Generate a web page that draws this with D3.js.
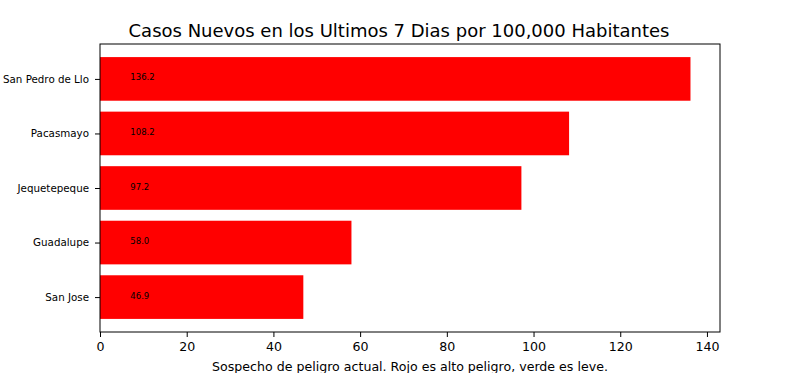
<!DOCTYPE html>
<html>
<head>
<meta charset="utf-8">
<script src="https://cdn.jsdelivr.net/npm/d3@7"></script>
<style>
  body { margin: 0; background: #fff; }
  svg { font-family: "DejaVu Sans", sans-serif; }
</style>
</head>
<body>
<svg id="chart" width="800" height="373"></svg>
<script>
// data
let districts = ["San Jose", "Guadalupe", "Jequetepeque", "Pacasmayo", "San Pedro de Llo"];
let cases = [46.9, 58.0, 97.2, 108.2, 136.2];
let xTicks = [0, 20, 40, 60, 80, 100, 120, 140];

let svg = d3.select("#chart");
let plotLeft = 100, plotRight = 720, plotTop = 44, plotBottom = 332;

// matplotlib style margins
let xScale = d3.scaleLinear()
  .domain([0, d3.max(cases) * 1.05])
  .range([plotLeft, plotRight]);
let yScale = d3.scaleLinear()
  .domain([-0.64, districts.length - 1 + 0.64])
  .range([plotBottom, plotTop]);

svg.append("rect")
  .attr("width", 800).attr("height", 373).attr("fill", "#fff");

// bars
svg.selectAll("rect.bar")
  .data(cases)
  .enter()
  .append("rect")
  .attr("class", "bar")
  .attr("x", xScale(0))
  .attr("y", (d, i) => yScale(i + 0.4))
  .attr("width", d => xScale(d) - xScale(0))
  .attr("height", yScale(-0.4) - yScale(0.4))
  .attr("fill", "#ff0000");

// value labels
svg.selectAll("text.val")
  .data(cases)
  .enter()
  .append("text")
  .attr("class", "val")
  .attr("x", xScale(7))
  .attr("y", (d, i) => yScale(i) + 1.5)
  .attr("font-size", "8.5px")
  .attr("fill", "#000")
  .text(d => d.toFixed(1));

// frame
svg.append("rect")
  .attr("x", plotLeft).attr("y", plotTop)
  .attr("width", plotRight - plotLeft).attr("height", plotBottom - plotTop)
  .attr("fill", "none").attr("stroke", "#000").attr("stroke-width", 1);

// x axis
let xAxis = svg.append("g")
  .attr("transform", `translate(0,${plotBottom})`)
  .call(d3.axisBottom(xScale).tickValues(xTicks).tickSize(5).tickPadding(5));
xAxis.select(".domain").remove();
xAxis.selectAll("text").attr("font-size", "12.6px").attr("font-family", "DejaVu Sans").attr("fill", "#000");

// y axis
let yAxis = svg.append("g")
  .attr("transform", `translate(${plotLeft},0)`)
  .call(d3.axisLeft(yScale).tickValues(d3.range(districts.length))
    .tickFormat(i => districts[i]).tickSize(5).tickPadding(6));
yAxis.select(".domain").remove();
yAxis.selectAll("text").attr("font-size", "10.3px").attr("font-family", "DejaVu Sans").attr("fill", "#000");

// title (figure-centred)
svg.append("text")
  .attr("x", 399)
  .attr("y", 37)
  .attr("text-anchor", "middle")
  .attr("font-size", "18px")
  .text("Casos Nuevos en los Ultimos 7 Dias por 100,000 Habitantes");

// x label
svg.append("text")
  .attr("x", (plotLeft + plotRight) / 2)
  .attr("y", 371)
  .attr("text-anchor", "middle")
  .attr("font-size", "12.6px")
  .text("Sospecho de peligro actual. Rojo es alto peligro, verde es leve.");
</script>
</body>
</html>
